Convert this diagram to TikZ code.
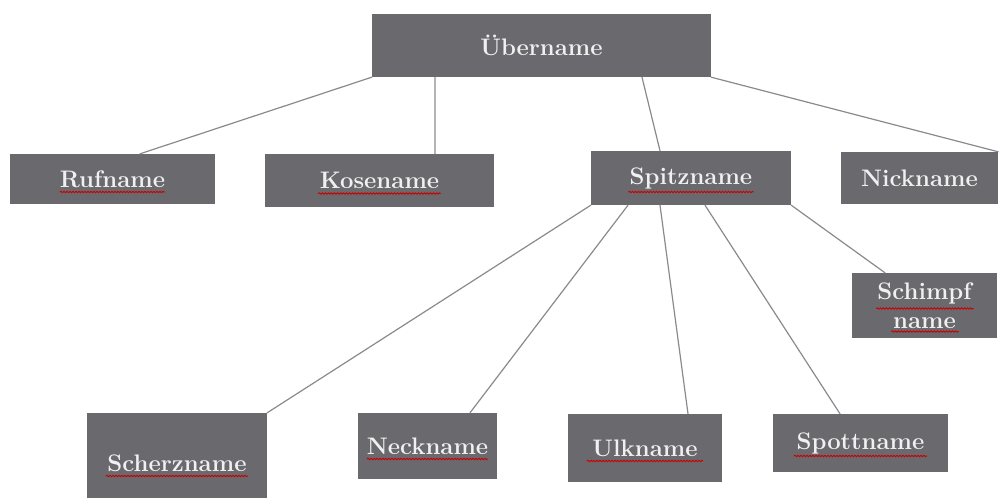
\documentclass[tikz,border=0pt]{standalone}
\usetikzlibrary{decorations.pathmorphing}
\definecolor{boxgray}{RGB}{106,105,110}
\definecolor{linegray}{RGB}{138,138,140}
\definecolor{txtwhite}{RGB}{240,240,240}
\begin{document}
\begin{tikzpicture}[x=1bp,y=-1bp, line join=round, line cap=round,
		namebox/.style={rectangle,fill=boxgray,text=txtwhite,inner sep=0pt,align=center,
			font=\fontsize{24}{29}\selectfont\bfseries},
		link/.style={draw=linegray,line width=1.2bp},
		squig/.style={draw=red!80!black,line width=0.9bp,decorate,
			decoration={snake,amplitude=0.8bp,segment length=3bp}}]
	\useasboundingbox (0,0) rectangle (1003,498);
	% obere Ebene
	\node[namebox,minimum width=339bp,minimum height=63bp] (ueber) at (541.5,45.5) {Übername};
	% mittlere Ebene
	\node[namebox,minimum width=205bp,minimum height=50bp] (ruf) at (112.5,179) {Rufname};
	\node[namebox,minimum width=229bp,minimum height=53bp] (kose) at (379.5,180.5) {Kosename};
	\node[namebox,minimum width=200bp,minimum height=54bp] (spitz) at (691,178) {Spitzname};
	\node[namebox,minimum width=157bp,minimum height=52bp] (nick) at (919.5,178) {Nickname};
	\node[namebox,minimum width=145bp,minimum height=65bp] (schimpf) at (924.5,305.5) {Schimpf\\name};
	% untere Ebene
	\node[namebox,minimum width=180bp,minimum height=100bp] (scherz) at (177,463) {Scherzname};
	\node[namebox,minimum width=139bp,minimum height=66bp] (neck) at (427.5,446) {Neckname};
	\node[namebox,minimum width=154bp,minimum height=68bp] (ulk) at (645,448) {Ulkname};
	\node[namebox,minimum width=175bp,minimum height=58bp] (spott) at (860.5,443) {Spottname};
	% Verbindungen
	\draw[link] (ueber.south west) -- ([xshift=27.5bp]ruf.north);
	\draw[link] ([xshift=-106.5bp]ueber.south) -- ([xshift=55.5bp]kose.north);
	\draw[link] ([xshift=100.5bp]ueber.south) -- ([xshift=-31bp]spitz.north);
	\draw[link] (ueber.south east) -- (nick.north east);
	\draw[link] (spitz.south west) -- (scherz.north east);
	\draw[link] ([xshift=-63bp]spitz.south) -- ([xshift=42.5bp]neck.north);
	\draw[link] ([xshift=-31bp]spitz.south) -- ([xshift=43bp]ulk.north);
	\draw[link] ([xshift=14bp]spitz.south) -- ([xshift=-20.5bp]spott.north);
	\draw[link] (spitz.south east) -- ([xshift=-39.5bp]schimpf.north);
	% Rechtschreib-Wellenlinien
	\foreach \n/\w/\dy in {ruf/105/13,kose/122/13,spitz/125/14,scherz/142/13,neck/121/13,ulk/116/13,spott/133/13}
		\draw[squig] ([xshift=-\w/2*1bp,yshift=-\dy*1bp]\n.center) -- ++(\w,0);
	\draw[squig] ([xshift=-48bp,yshift=-3bp]schimpf.center) -- ++(97,0);
	\draw[squig] ([xshift=-33bp,yshift=-26bp]schimpf.center) -- ++(67,0);
\end{tikzpicture}
\end{document}
